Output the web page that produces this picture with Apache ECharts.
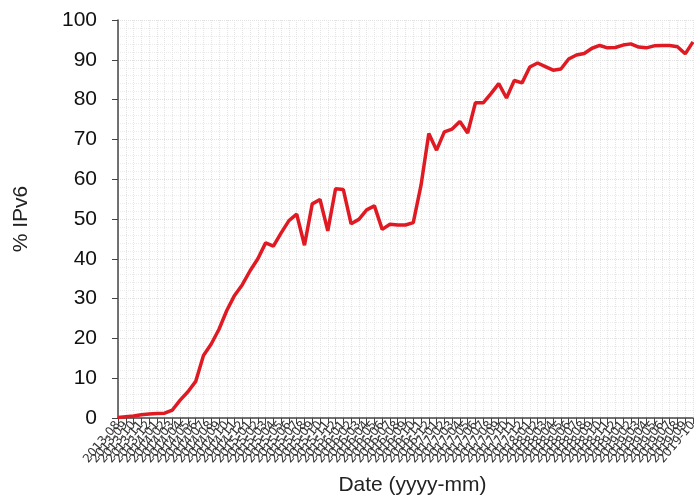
<!DOCTYPE html>
<html><head><meta charset="utf-8">
<script src="https://cdn.jsdelivr.net/npm/echarts@6/dist/echarts.min.js"></script>
<style>html,body{margin:0;padding:0;background:#fff}#c{width:694px;height:499px}</style>
</head><body><div id="c"></div>
<script>
var startYear = 2013, startMonth = 8;
var ipv6Values = [0.1,0.3,0.5,0.8,1.0,1.1,1.2,2.0,4.5,6.6,9.2,15.7,18.6,22.3,27,30.8,33.5,37,40,44,43.2,46.5,49.6,51.2,43.4,53.8,54.9,47,57.6,57.4,48.8,49.9,52.3,53.3,47.4,48.7,48.5,48.5,49.1,58.5,71.5,67.3,71.9,72.6,74.5,71.6,79.2,79.2,81.5,84,80.4,84.8,84.2,88.2,89.2,88.3,87.4,87.7,90.2,91.2,91.6,92.9,93.6,93,93.1,93.7,94,93.2,93,93.5,93.6,93.6,93.3,91.5,94.5];
var months = [];
for (var i = 0; i < ipv6Values.length; i++) {
  var m = startMonth - 1 + i;
  var y = startYear + Math.floor(m / 12);
  var mm = (m % 12) + 1;
  months.push(y + '-' + (mm < 10 ? '0' + mm : mm));
}
var yTicks = [0,10,20,30,40,50,60,70,80,90,100];
var chart = echarts.init(document.getElementById('c'), null, {renderer:'canvas'});
chart.setOption({
  animation:false,
  backgroundColor:'#fff',
  grid:{left:118,right:1,top:20,bottom:81,containLabel:false,outerBoundsMode:'none'},
  xAxis:{
    type:'category', data:months, boundaryGap:false,
    name:'Date (yyyy-mm)', nameLocation:'middle', nameGap:57,
    nameTextStyle:{fontFamily:'Liberation Sans',fontSize:21,color:'#222',padding:[0,0,0,14]},
    axisLine:{lineStyle:{color:'#444',width:1.5}},
    axisTick:{show:true,interval:0,length:6,lineStyle:{color:'#444'}},
    axisLabel:{interval:0,rotate:50,fontSize:12,color:'#333',fontFamily:'DejaVu Sans',margin:5,hideOverlap:false},
    splitLine:{show:true,interval:0,lineStyle:{color:'#e4e4e4',type:'dotted',width:1}}
  },
  yAxis:{
    type:'value', min:yTicks[0], max:yTicks[yTicks.length-1], interval:10,
    name:'% IPv6', nameLocation:'middle', nameGap:86,
    nameTextStyle:{fontFamily:'Liberation Sans',fontSize:21,color:'#222'},
    axisLine:{show:true,lineStyle:{color:'#444',width:1.5}},
    axisTick:{show:true,length:6,lineStyle:{color:'#444'}},
    axisLabel:{fontSize:21,color:'#111',fontFamily:'Liberation Sans',margin:21},
    splitLine:{show:true,lineStyle:{color:'#e0e0e0',type:'dotted'}},
    minorTick:{show:false,splitNumber:5},
    minorSplitLine:{show:true,lineStyle:{color:'#ececec',type:'dotted'}}
  },
  series:[{
    type:'line', data:ipv6Values, showSymbol:false, symbol:'none',
    lineStyle:{color:'#df1a22',width:3.5}, itemStyle:{color:'#df1a22'}
  }]
});
</script></body></html>
